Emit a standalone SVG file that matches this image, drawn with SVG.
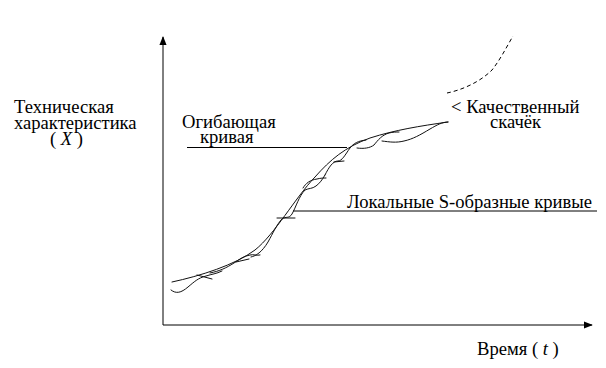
<svg xmlns="http://www.w3.org/2000/svg" width="606" height="368" viewBox="0 0 606 368">
<defs>
<marker id="ah" viewBox="0 0 10 10" refX="9" refY="5" markerWidth="9" markerHeight="9" markerUnits="userSpaceOnUse" orient="auto">
<path d="M0,1 L10,5 L0,9 Z" fill="#000"/>
</marker>
</defs>
<rect width="606" height="368" fill="#fff"/>
<g id="axes" fill="none" stroke="#000" stroke-width="1">
<line x1="163" y1="325" x2="163" y2="37" marker-end="url(#ah)"/>
<line x1="163" y1="325" x2="592" y2="325" marker-end="url(#ah)"/>
</g>
<g id="envelope" fill="none" stroke="#111" stroke-width="1" stroke-linecap="round">
<path d="M172,282 C200,276 235,265 255,250 C275,234 295,198 315,177 C330,160 345,147 370,138 C395,130 420,126 448,122"/>
</g>
<g id="local-curves" fill="none" stroke="#111" stroke-width="1" stroke-linecap="round">
<path d="M171,290 C176,294 181,293 188,287 C194,282 198,278 206,276 C212,274 216,274 222,271"/>
<path d="M197,275 L212,279"/>
<path d="M210,273 C220,271 226,268 234,263 C240,259 244,256 250,255 C254,254 256,256 260,255"/>
<path d="M236,262 L249,259"/>
<path d="M251,257 C256,256 262,252 268,242 C273,233 277,224 282,219 C286,216 289,219 292,214 C296,207 299,196 305,190 C309,188 312,189 316,186 C320,183 322,180 325,175"/>
<path d="M277,218 L295,218"/>
<path d="M303,188 C306,183 310,180 317,179 C321,178 323,178 326,178"/>
<path d="M325,175 C329,167 333,161 338,161 C342,161 345,155 350,148 C354,143 358,141 366,140"/>
<path d="M334,162 L344,161"/>
<path d="M357,148 C364,149 370,148 374,145 C378,140 382,135 389,133 C393,132 396,132 399,132"/>
<path d="M382,141 C390,142 396,143 404,141 C413,139 420,135 430,129 C437,125 442,122 448,122"/>
</g>
<g id="jump" fill="none" stroke="#000" stroke-width="1" stroke-dasharray="4 3">
<path d="M447,93 C462,90 480,82 492,70 C500,60 506,48 513,36"/>
</g>
<g id="connectors" fill="none" stroke="#000" stroke-width="1">
<line x1="187" y1="147.5" x2="347" y2="147.5"/>
<line x1="293" y1="211" x2="597" y2="211"/>
</g>
<g id="labels" font-family="Liberation Serif" font-size="18.6" fill="#000">
<g id="label-y">
<text x="14" y="113">Техническая</text>
<text x="14" y="128.5">характеристика</text>
<text x="50" y="145">( <tspan font-style="italic">X</tspan> )</text>
</g>
<g id="label-envelope">
<text x="182" y="128">Огибающая</text>
<text x="200" y="143">кривая</text>
</g>
<g id="label-jump">
<text x="451" y="113">&lt; Качественный</text>
<text x="490" y="128">скачёк</text>
</g>
<g id="label-local">
<text x="347" y="208">Локальные S-образные кривые</text>
</g>
<g id="label-x">
<text x="477" y="355">Время ( <tspan font-style="italic">t</tspan> )</text>
</g>
</g>
</svg>
